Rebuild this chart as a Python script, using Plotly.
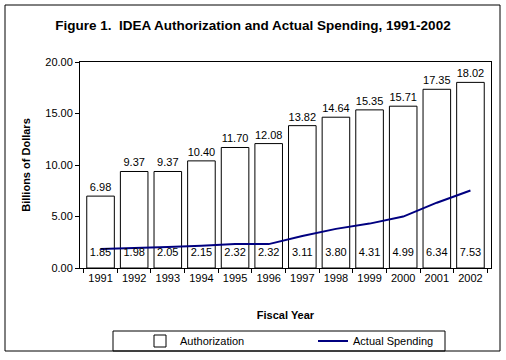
import plotly.graph_objects as go

years = ["1991", "1992", "1993", "1994", "1995", "1996", "1997", "1998", "1999", "2000", "2001", "2002"]
authorization = [6.98, 9.37, 9.37, 10.40, 11.70, 12.08, 13.82, 14.64, 15.35, 15.71, 17.35, 18.02]
actual_spending = [1.85, 1.98, 2.05, 2.15, 2.32, 2.32, 3.11, 3.80, 4.31, 4.99, 6.34, 7.53]

FONT = "Liberation Sans, Arial, sans-serif"
label_y = 1.45

fig = go.Figure()
fig.add_trace(go.Bar(
    x=years, y=authorization, name="Authorization",
    marker=dict(color="white", line=dict(color="black", width=1)),
    text=[f"{v:.2f}" for v in authorization], textposition="outside",
    textfont=dict(family=FONT, size=11, color="black"), cliponaxis=False,
))
fig.add_trace(go.Scatter(
    x=years, y=actual_spending, name="Actual Spending", mode="lines",
    line=dict(color="#000080", width=2),
))
fig.add_trace(go.Scatter(
    x=years, y=[label_y] * len(years), mode="text", showlegend=False,
    text=[f"{v:.2f}" for v in actual_spending],
    textfont=dict(family=FONT, size=11, color="black"), hoverinfo="skip",
))

L, R, T, B = 80, 15, 62, 92
W, H = 506 - L - R, 360 - T - B

def px(x):
    return (x - L) / W

def py(y):
    return (360 - B - y) / H

# outer frame edges (pixels)
fx0, fx1, fy0, fy1 = 5, 500, 5, 351
frame = [
    (fx0, fy0, fx1, fy0), (fx0, fy1, fx1, fy1),
    (fx0, fy0, fx0, fy1), (fx1, fy0, fx1, fy1),
]
# legend box edges (pixels)
lx0, lx1, ly0, ly1 = 113, 445, 331, 351
legend_box = [
    (lx0, ly0, lx1, ly0), (lx0, ly1, lx1, ly1),
    (lx0, ly0, lx0, ly1), (lx1, ly0, lx1, ly1),
]
shapes = [dict(type="line", xref="paper", yref="paper",
               x0=px(a), y0=py(b), x1=px(c), y1=py(d),
               line=dict(color="black", width=1), layer="above")
          for a, b, c, d in frame + legend_box]

fig.update_layout(
    width=506, height=360,
    margin=dict(l=L, r=R, t=T, b=B, autoexpand=False),
    paper_bgcolor="white", plot_bgcolor="white",
    font=dict(family=FONT, size=11, color="black"),
    bargap=0.18,
    title=dict(text="<b>Figure 1.  IDEA Authorization and Actual Spending, 1991-2002</b>",
               x=px(253), xanchor="center", xref="paper", y=1 - 25 / 360, yanchor="middle",
               font=dict(family=FONT, size=13.5)),
    xaxis=dict(
        automargin=False,
        showline=True, linecolor="black", linewidth=1, mirror=True,
        ticks="outside", ticklen=4, tickson="boundaries", tickcolor="black",
        title=dict(text="<b>Fiscal Year</b>", standoff=28, font=dict(size=11)),
        tickfont=dict(size=11),
    ),
    yaxis=dict(
        automargin=False,
        range=[0, 20], dtick=5, tickformat=".2f",
        showline=True, linecolor="black", linewidth=1, mirror=True,
        ticks="outside", ticklen=4, tickcolor="black", showgrid=False, zeroline=False,
        title=dict(text="<b>Billions of Dollars</b>", standoff=12, font=dict(size=11)),
        tickfont=dict(size=11),
    ),
    legend=dict(
        orientation="h", x=px(140), xanchor="left", y=py(341), yanchor="middle",
        bgcolor="rgba(0,0,0,0)", borderwidth=0, entrywidth=128,
        font=dict(size=11), tracegroupgap=0,
    ),
    shapes=shapes,
    showlegend=True,
)

fig.write_html("out.html", config={"displayModeBar": False},
               post_script="document.body.style.margin='0';document.body.style.overflow='hidden';")
